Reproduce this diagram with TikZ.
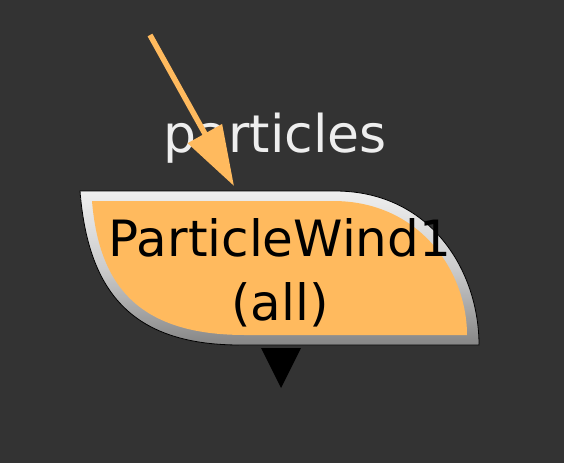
\documentclass[tikz,border=0pt]{standalone}
\usepackage{fontspec}
\setmainfont{DejaVu Sans}
\usetikzlibrary{arrows.meta}
\definecolor{bgdark}{HTML}{333333}
\definecolor{nodeorange}{HTML}{FFBA5E}
\definecolor{labelgrey}{HTML}{EEEEEE}
\tikzset{portlabel/.style={text=labelgrey,font=\fontsize{52}{60}\selectfont},
  nodetext/.style={align=center,font=\fontsize{50}{64}\selectfont}}

\begin{document}
\begin{tikzpicture}[x=1pt,y=-1pt]
\fill[bgdark] (0,0) rectangle (564,463);
\useasboundingbox (0,0) rectangle (564,463);
%\draw[-,color=gray,dashed] (0,0) grid[step=50] (564,463);
% node body: grey rim, then orange inside
\shade[top color=gray!13,bottom color=gray!95!white,middle color=gray!40] (80,191) -- (335,191) .. controls (430,191) and (479,270) .. (479,345) -- (240,345) .. controls (130,345) and (88,290) .. (80,191) -- cycle;
\draw[black,line width=0.8pt] (80,191) -- (335,191) .. controls (430,191) and (479,270) .. (479,345) -- (240,345) .. controls (130,345) and (88,290) .. (80,191) -- cycle;
\fill[nodeorange] (92,201) -- (333,201) .. controls (420,201) and (467,272) .. (467,335) -- (245,335) .. controls (138,335) and (99,285) .. (92,201) -- cycle;
\node[nodetext] (wind) at (280,273) {ParticleWind1\\(all)};
% output port
\fill[black] (261,348) -- (301,348) -- (281,388) -- cycle;
% input port
\node[portlabel,anchor=base] (particles) at (275,152) {particles};
\coordinate (src) at (150,35);
\coordinate (dst) at (234,186);
\draw[-{Triangle[length=60pt,width=38pt]},nodeorange,line width=5.5pt] (src) -- (dst);
\end{tikzpicture}
\end{document}
